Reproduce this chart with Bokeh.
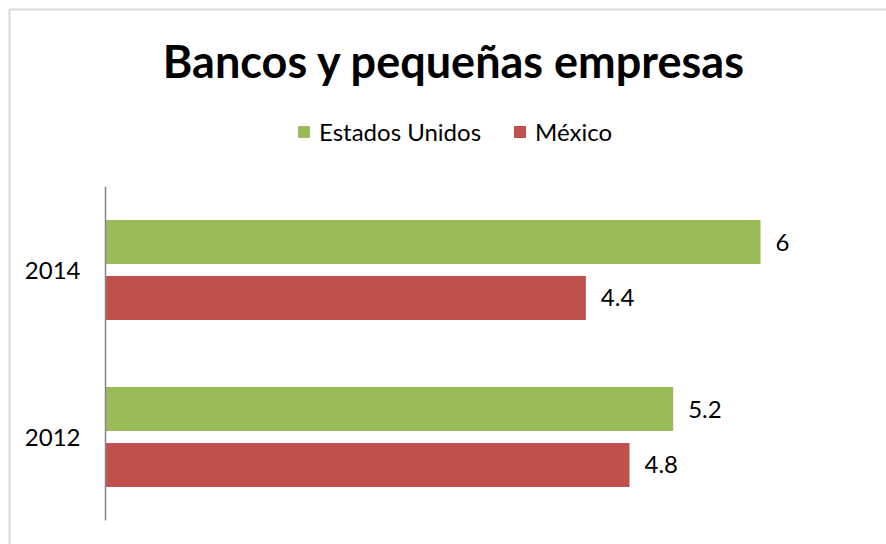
from bokeh.plotting import figure
from bokeh.models import ColumnDataSource, Range1d, LabelSet, Label, Legend, LegendItem, BoxAnnotation
from bokeh.core.properties import value
from bokeh.transform import dodge
from bokeh.embed import file_html
from bokeh.resources import INLINE

years = [2012, 2014]
year_labels = ["2012", "2014"]
estados_unidos = [5.2, 6.0]
mexico = [4.8, 4.4]
us_labels = ["5.2", "6"]
mx_labels = ["4.8", "4.4"]

GREEN = "#9BBB59"
RED = "#C0504D"
GRAY = "#868686"
FONT = "Lato"

W, H = 886, 544
AX_X = 105            # canvas x of value 0
PX_PER_UNIT = 109.17  # px per value unit
Y_TOP_YEAR_PX = 269.5 # canvas y of the top category centre
PX_PER_YEAR = 83.5

x_start = -AX_X / PX_PER_UNIT
x_end = (W - AX_X) / PX_PER_UNIT
y_top = max(years) + Y_TOP_YEAR_PX / PX_PER_YEAR
y_bottom = y_top - H / PX_PER_YEAR

src = ColumnDataSource(dict(year=years, ylab=year_labels, us=estados_unidos, mx=mexico,
                            us_t=us_labels, mx_t=mx_labels, zero=[0] * len(years)))

p = figure(width=W, height=H, output_backend="svg", toolbar_location=None,
           x_range=Range1d(x_start, x_end), y_range=Range1d(y_bottom, y_top),
           min_border=0, x_axis_location=None, y_axis_location=None)
p.outline_line_color = None
p.grid.visible = False

OFF = 0.335
BAR_H = 0.527
r1 = p.hbar(y=dodge("year", OFF), right="us", left=0, height=BAR_H,
            source=src, fill_color=GREEN, line_color=None)
r2 = p.hbar(y=dodge("year", -OFF), right="mx", left=0, height=BAR_H,
            source=src, fill_color=RED, line_color=None)

# value labels
for col, txt, off in (("us", "us_t", OFF), ("mx", "mx_t", -OFF)):
    p.add_layout(LabelSet(x=col, y=dodge("year", off), text=txt, source=src,
                          x_offset=15, text_baseline="middle", text_font=value(FONT),
                          text_font_size="24px", text_color="#000000"))

# category axis: line spanning the category bands and year labels
p.segment(x0=0, x1=0, y0=min(years) - 1, y1=max(years) + 1, line_color=GRAY, line_width=1.5)
p.text(x="zero", y="year", text="ylab", source=src, x_offset=-25, text_align="right",
       text_baseline="middle", text_font=value(FONT), text_font_size="24px", text_color="#000000")

# chart border
p.add_layout(BoxAnnotation(left=9, right=W + 50, top=H - 9, bottom=-50,
                           left_units="screen", right_units="screen", top_units="screen", bottom_units="screen",
                           fill_alpha=0, line_color="#808080", line_width=2))

p.add_layout(Label(x=454, y=H - 60, x_units="screen", y_units="screen",
                   text="Bancos y pequeñas empresas", text_font=FONT, text_font_style="bold",
                   text_font_size="45px", text_align="center", text_baseline="alphabetic",
                   text_color="#000000"))

legend = Legend(items=[LegendItem(label="Estados Unidos", renderers=[r1]),
                       LegendItem(label="México", renderers=[r2])],
                orientation="horizontal", location=(301 - 5, H - 146),
                glyph_width=15, glyph_height=15, label_standoff=8, spacing=31,
                label_text_font=FONT, label_text_font_size="24px", label_text_color="#000000",
                border_line_color=None, background_fill_alpha=0, padding=5, margin=0)
p.add_layout(legend, "center")

open("out.html", "w").write(file_html(p, INLINE))
